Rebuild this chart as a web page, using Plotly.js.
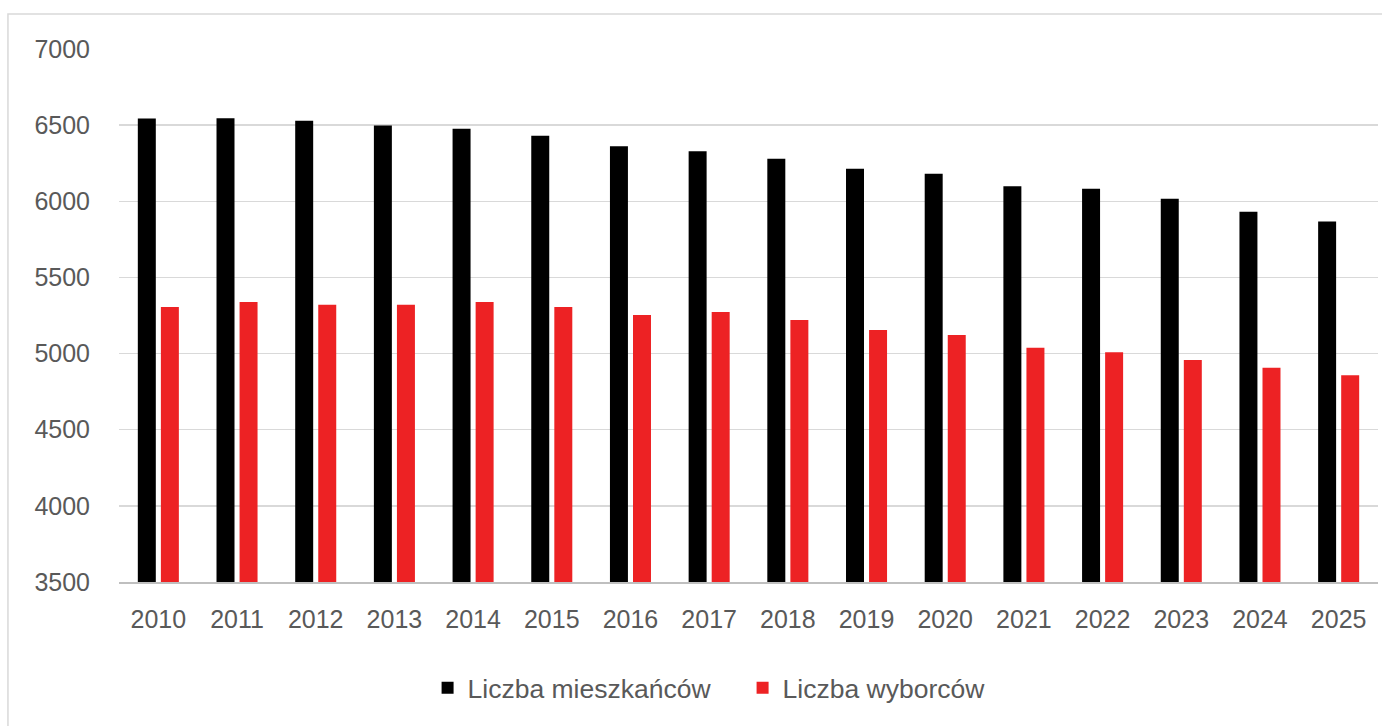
<!DOCTYPE html>
<html>
<head>
<meta charset="utf-8">
<script src="https://cdn.plot.ly/plotly-3.0.1.min.js"></script>
<style>
html,body{margin:0;padding:0;background:#fff;}
#chart{width:1382px;height:726px;}
</style>
</head>
<body>
<div id="chart"></div>
<script>
const years = ['2010','2011','2012','2013','2014','2015','2016','2017','2018','2019','2020','2021','2022','2023','2024','2025'];
const residents = [6544, 6545, 6529, 6498, 6476, 6430, 6362, 6329, 6279, 6213, 6180, 6099, 6082, 6016, 5932, 5867];
const voters = [5306, 5339, 5321, 5321, 5339, 5306, 5253, 5273, 5220, 5155, 5122, 5038, 5008, 4957, 4907, 4857];
const seriesNames = ['Liczba mieszkańców', 'Liczba wyborców'];
const yTicks = [3500, 4000, 4500, 5000, 5500, 6000, 6500, 7000];

const fontFamily = '"Liberation Sans", Arial, sans-serif';
const textColor = '#595959';

const traces = [
  {type:'bar', x: years, y: residents, name: seriesNames[0], marker:{color:'#000000'}},
  {type:'bar', x: years, y: voters, name: seriesNames[1], marker:{color:'#ED2224'}}
];

const layout = {
  width: 1382, height: 726,
  margin: {l:119, r:4, t:49, b:144, pad:0},
  paper_bgcolor:'#ffffff', plot_bgcolor:'#ffffff',
  barmode:'group', bargap:0.414, bargroupgap:0.22,
  font:{family: fontFamily, color: textColor, size: 25},
  xaxis:{
    type:'category', showgrid:false, zeroline:false,
    showline:true, linecolor:'#bfbfbf', linewidth:1.5,
    ticks:'', tickfont:{family: fontFamily, size:25, color:textColor},
    ticklabelstandoff: 14
  },
  yaxis:{
    range:[3500, 7000], tickvals: yTicks, ticktext: yTicks.map(String),
    showgrid:true, gridcolor:'#d9d9d9', gridwidth:1.5,
    zeroline:false, showline:false, ticks:'',
    tickfont:{family: fontFamily, size:25, color:textColor},
    ticklabelstandoff: 28
  },
  showlegend:true,
  legend:{
    orientation:'h', x:0.4953, xanchor:'center', y:-0.199, yanchor:'middle',
    font:{family: fontFamily, size:26.5, color:textColor},
    itemwidth:30, traceorder:'normal', bgcolor:'rgba(0,0,0,0)',
    entrywidth: 270, entrywidthmode:'pixels'
  },
  shapes:[
    {type:'rect', xref:'paper', yref:'paper', x0:-0.0882, x1:1.02, y0:-0.35, y1:1.0657,
     line:{color:'#d9d9d9', width:1.5}, fillcolor:'rgba(0,0,0,0)', layer:'below'}
  ]
};

Plotly.newPlot('chart', traces, layout, {displayModeBar:false, staticPlot:true});
</script>
</body>
</html>
